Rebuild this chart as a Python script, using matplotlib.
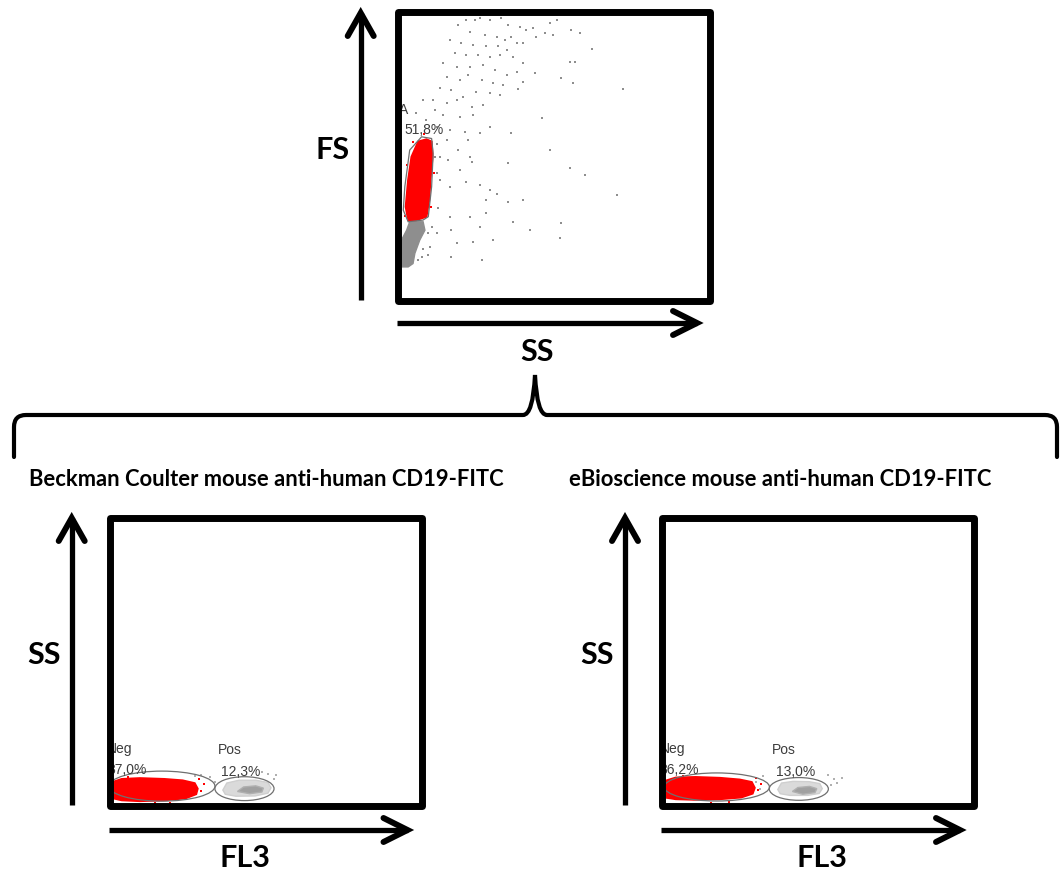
import matplotlib
matplotlib.use("Agg")
import matplotlib.pyplot as plt
from matplotlib.patches import Ellipse, Polygon, Rectangle, PathPatch
from matplotlib.path import Path

W, H = 1062, 882

# ---- FS vs SS plot (channels 0-1024) ----
# sparse events outside gate A
top_ss = [199, 226, 254, 270, 303, 341, 363, 401, 423, 445, 500, 522, 571, 598, 637, 741,
          237, 287, 325, 352, 374, 172, 210, 248, 292, 330, 358, 391, 412, 456, 484, 511,
          188, 226, 265, 303, 336, 380, 412,
          150, 194, 237, 281, 319, 358, 391, 451, 538, 577, 566, 582,
          161, 205, 232, 276, 314, 347, 396,
          139, 177, 216, 259, 303, 336, 412,
          117, 161, 194, 243, 281,
          123, 150, 205, 248, 303,
          84, 62, 95, 128, 172, 221, 270, 232, 473,
          374,
          161, 199, 237, 166, 205, 243, 363, 500, 566, 615,
          139, 172, 226, 270, 303, 325, 292, 363, 412, 719,
          133, 172, 237, 292, 380, 434, 270,
          177, 128, 194, 248, 314, 538, 533,
          177, 276, 101, 79,
          101, 106, 84, 112, 68, 128, 123, 128, 139]
top_fs = [976, 994, 994, 1000, 994, 1000, 976, 970, 959, 965, 982, 994, 959, 947, 890, 748,
          953, 941, 935, 923, 935, 923, 911, 905, 900, 900, 888, 911, 911, 935, 947, 941,
          876, 870, 870, 864, 870, 864, 840,
          840, 829, 829, 834, 817, 799, 811, 805, 787, 769, 846, 846,
          793, 781, 799, 781, 769, 764, 748,
          752, 746, 722, 740, 734, 728, 775,
          710, 699, 710, 687, 693,
          675, 657, 651, 657, 616,
          710, 663, 639, 616, 604, 598, 592, 569, 645,
          592,
          569, 533, 509, 498, 462, 492, 486, 533, 468, 444,
          427, 403, 421, 409, 391, 379, 356, 350, 356, 374,
          326, 297, 297, 309, 279, 249, 261,
          249, 238, 202, 208, 214, 273, 220,
          155, 143, 161, 155,
          238, 190, 184, 261, 143, 553, 509, 450, 509]

# dense debris tail (grey) and gated population A (red)
tail_ss = [13, 13, 30, 40, 84, 90, 73, 57, 51, 35]
tail_fs = [119, 214, 249, 279, 279, 249, 214, 167, 131, 119]
gate_a_ss = [79, 112, 117, 112, 101, 84, 35, 19, 24, 40]
gate_a_fs = [580, 574, 521, 403, 297, 285, 279, 320, 403, 533]
pop_a_ss = [68, 95, 112, 115, 108, 104, 95, 62, 35, 27, 35, 46]
pop_a_fs = [563, 571, 563, 509, 427, 356, 297, 285, 285, 332, 427, 509]
stray_a_ss = [50, 30, 110, 25, 120, 88]
stray_a_fs = [560, 480, 330, 300, 450, 590]
gate_a_label = "A"
gate_a_pct = "51,8%"

# ---- SS vs FL3 plots ----
titles = ["Beckman Coulter mouse anti-human CD19-FITC",
          "eBioscience mouse anti-human CD19-FITC"]
neg_pct = ["87,0%", "86,2%"]
pos_pct = ["12,3%", "13,0%"]

# gate ellipses: centre x, centre y, width, height
neg_gate = [(172, 69, 348, 107), (180, 66, 345, 100)]
pos_gate = [(443, 60, 194, 85), (449, 59, 194, 81)]

neg_pop_x = [[12, 12, 40, 100, 180, 240, 280, 290, 285, 250, 180, 100, 40],
             [15, 15, 45, 110, 190, 255, 295, 305, 298, 260, 190, 105, 45]]
neg_pop_y = [[25, 85, 95, 98, 95, 90, 80, 60, 40, 25, 18, 15, 18],
             [27, 90, 100, 102, 99, 93, 84, 63, 42, 28, 22, 20, 22]]
pos_pop_x = [[372, 385, 425, 480, 520, 530, 520, 478, 415, 380],
             [380, 392, 430, 482, 518, 526, 516, 478, 420, 388]]
pos_pop_y = [[55, 80, 90, 90, 82, 63, 44, 34, 33, 40],
             [57, 80, 86, 85, 78, 60, 43, 36, 36, 42]]
pos_core_x = [[420, 440, 480, 505, 500, 460], [428, 446, 484, 508, 502, 462]]
pos_core_y = [[50, 66, 70, 62, 48, 42], [50, 64, 68, 60, 46, 40]]

stray_red_x = [[300, 310, 295, 150, 200, 60], [315, 325, 310, 160, 220, 70]]
stray_red_y = [[50, 75, 95, 8, 10, 102], [55, 78, 98, 10, 12, 106]]
stray_grey_x = [[330, 345, 540, 545, 300, 280, 500, 520], [565, 575, 590, 555, 320, 310, 545, 330]]
stray_grey_y = [[100, 85, 95, 110, 110, 105, 118, 112], [95, 80, 98, 72, 60, 85, 108, 104]]

RED = "#ff0000"
GREY = "#8e8e8e"
GATE = "#6f6f6f"
LABEL = "#3c3c3c"


def px_rect(x0, y0, x1, y1):
    return [x0 / W, 1 - y1 / H, (x1 - x0) / W, (y1 - y0) / H]


def dot_panel(fig, box):
    ax = fig.add_axes(px_rect(*box))
    ax.set_xlim(0, 1024)
    ax.set_ylim(0, 1024)
    ax.set_xticks([])
    ax.set_yticks([])
    for sp in ax.spines.values():
        sp.set_visible(False)
    ax.add_patch(Rectangle((0, 0), 1, 1, transform=ax.transAxes, fill=False,
                           lw=5, ec="black", joinstyle="round", clip_on=False, zorder=10))
    return ax


def arrow(ax, x0, y0, x1, y1, horizontal):
    ax.plot([x0, x1], [y0, y1], color="black", lw=3.8, solid_capstyle="butt")
    if horizontal:
        hx, hy = [x1 - 24, x1, x1 - 24], [y1 - 12, y1, y1 + 12]
    else:
        hx, hy = [x1 - 13, x1, x1 + 13], [y1 + 23, y1, y1 + 23]
    ax.plot(hx, hy, color="black", lw=4.3, solid_capstyle="round", solid_joinstyle="miter")


fig = plt.figure(figsize=(W / 100, H / 100), dpi=100)

# overlay in pixel units for arrows, brace and captions
bg = fig.add_axes([0, 0, 1, 1])
bg.set_xlim(0, W)
bg.set_ylim(H, 0)
bg.axis("off")

axis_font = dict(family=["Lato", "DejaVu Sans"], fontweight="bold", fontsize=22, color="black",
                 ha="center", va="center")
title_font = dict(family=["Lato", "DejaVu Sans"], fontweight="bold", fontsize=15.8, color="black",
                  ha="left", va="center")

arrow(bg, 360.7, 300, 360.7, 13, False)
arrow(bg, 397, 323, 697, 323, True)
bg.text(333, 150, "FS", **axis_font)
bg.text(537, 352, "SS", **axis_font)

# brace joining the gated population to the two stainings
verts = [(14, 457), (14, 427), (14, 415), (26, 415), (523, 415), (533, 415), (535, 375),
         (537, 415), (547, 415), (1045, 415), (1057, 415), (1057, 427), (1057, 457)]
codes = [Path.MOVETO, Path.LINETO, Path.CURVE3, Path.CURVE3, Path.LINETO, Path.CURVE3, Path.CURVE3,
         Path.CURVE3, Path.CURVE3, Path.LINETO, Path.CURVE3, Path.CURVE3, Path.LINETO]
bg.add_patch(PathPatch(Path(verts, codes), fill=False, lw=3, ec="black", capstyle="round"))

# FS vs SS dot plot
top = dot_panel(fig, (397.5, 11.5, 709.5, 300.5))
top.scatter(top_ss, top_fs, s=4, c=GREY, linewidths=0, marker="s")
top.add_patch(Polygon(list(zip(tail_ss, tail_fs)), closed=True, fc=GREY, ec=GREY, lw=1))
top.add_patch(Polygon(list(zip(pop_a_ss, pop_a_fs)), closed=True, fc=RED, ec=RED, lw=1.5))
top.scatter(stray_a_ss, stray_a_fs, s=4, c=RED, linewidths=0, marker="s")
top.add_patch(Polygon(list(zip(gate_a_ss, gate_a_fs)), closed=True, fill=False, ec=GATE, lw=0.9))
top.text(5, 675, gate_a_label, fontsize=10, color=LABEL, family="Liberation Sans",
         ha="left", va="center", clip_on=True)
top.text(24, 604, gate_a_pct, fontsize=10, color=LABEL, family="Liberation Sans",
         ha="left", va="center", clip_on=True)

# SS vs FL3 dot plots
boxes = [(109.5, 518, 421.5, 805.5), (662, 518, 974, 805.5)]
title_x = [29, 569]
arrow_x = [71.7, 625]
label_x = [(44, 245), (597, 822)]

for i in range(2):
    x0, y0, x1, y1 = boxes[i]
    ax = dot_panel(fig, boxes[i])

    ax.add_patch(Polygon(list(zip(neg_pop_x[i], neg_pop_y[i])), closed=True, fc=RED, ec=RED, lw=1.2))
    ax.scatter(stray_red_x[i], stray_red_y[i], s=4, c=RED, linewidths=0, marker="s")
    ax.add_patch(Polygon(list(zip(pos_pop_x[i], pos_pop_y[i])), closed=True, fc="#dadada", ec="#cfcfcf", lw=1))
    ax.add_patch(Polygon(list(zip(pos_core_x[i], pos_core_y[i])), closed=True, fc="#a0a0a0", ec="#b0b0b0", lw=1))
    ax.scatter(stray_grey_x[i], stray_grey_y[i], s=4, c="#b0b0b0", linewidths=0, marker="s")

    cx, cy, w, h = neg_gate[i]
    ax.add_patch(Ellipse((cx, cy), w, h, fill=False, ec=GATE, lw=0.9))
    cx, cy, w, h = pos_gate[i]
    ax.add_patch(Ellipse((cx, cy), w, h, fill=False, ec=GATE, lw=0.9))

    ax.text(-8, 201, "Neg", fontsize=10, color=LABEL, family="Liberation Sans",
            ha="left", va="center", clip_on=True)
    ax.text(-8, 128, neg_pct[i], fontsize=10, color=LABEL, family="Liberation Sans",
            ha="left", va="center", clip_on=True)
    ax.text(pos_gate[i][0] - 88, 196, "Pos", fontsize=10, color=LABEL, family="Liberation Sans",
            ha="left", va="center", clip_on=True)
    ax.text(pos_gate[i][0] - 76, 120, pos_pct[i], fontsize=10, color=LABEL, family="Liberation Sans",
            ha="left", va="center", clip_on=True)

    bg.text(title_x[i], 480, titles[i], **title_font)
    arrow(bg, arrow_x[i], 805, arrow_x[i], 518, False)
    arrow(bg, x0 - 1, 830, x0 + 298, 830, True)
    bg.text(label_x[i][0], 655, "SS", **axis_font)
    bg.text(label_x[i][1], 858, "FL3", **axis_font)

fig.savefig("out.png", dpi=100)
